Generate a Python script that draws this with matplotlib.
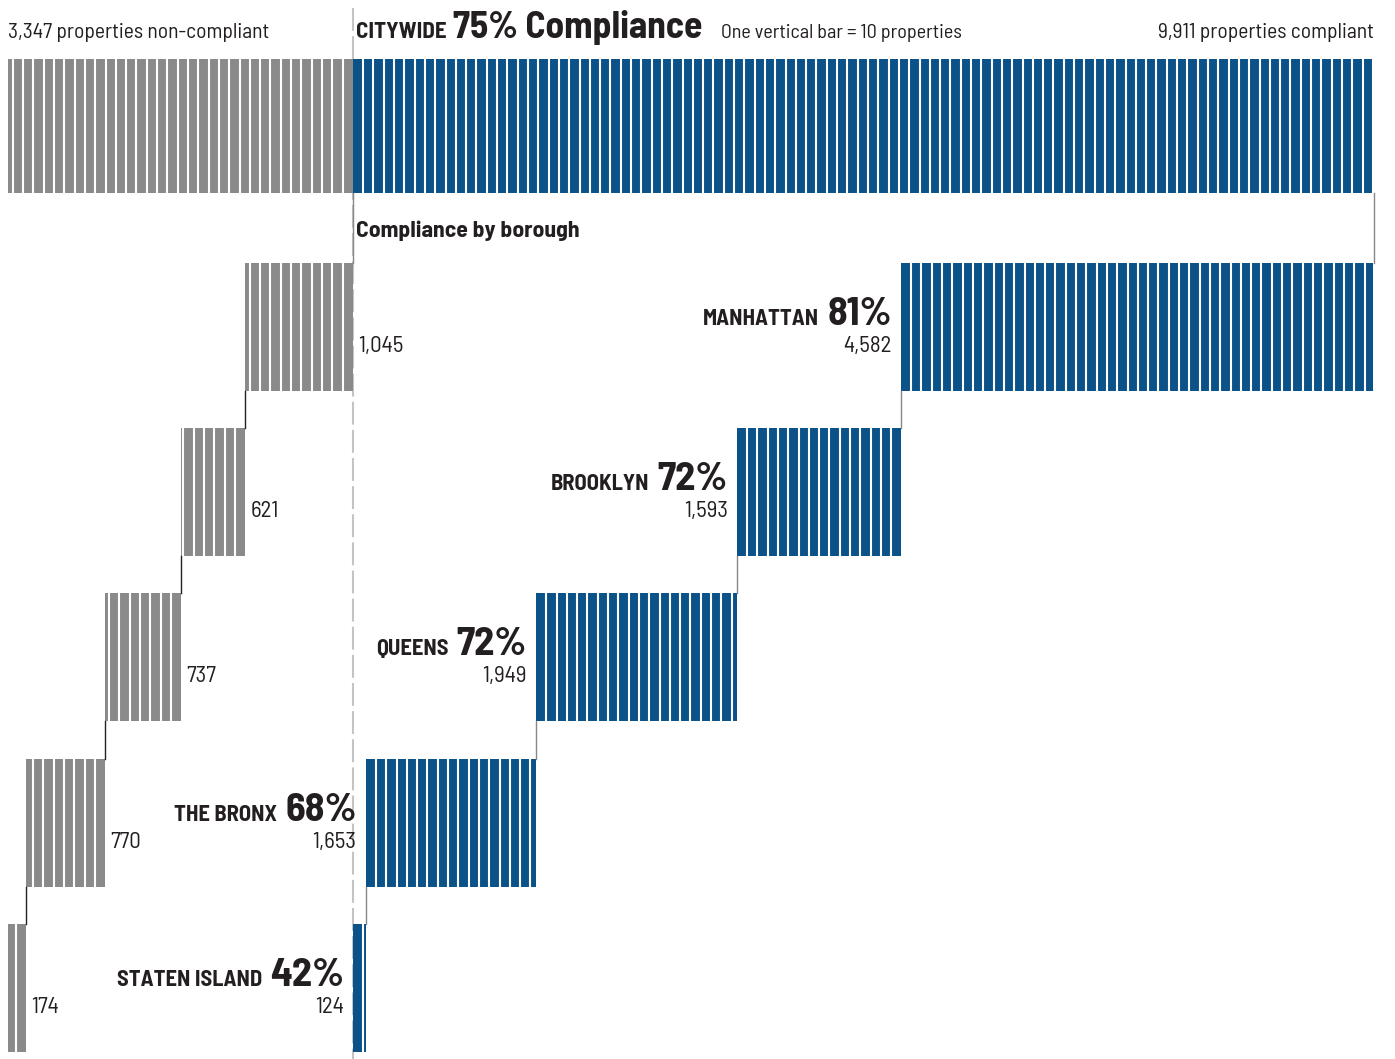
import matplotlib
matplotlib.use('Agg')
from matplotlib import pyplot as plt

# Данные
boroughs = ['MANHATTAN', 'BROOKLYN', 'QUEENS', 'THE BRONX', 'STATEN ISLAND']
pct_labels = ['81%', '72%', '72%', '68%', '42%']
compliant = [4582, 1593, 1949, 1653, 124]
non_compliant = [1045, 621, 737, 770, 174]
city_compliant = 9911
city_non_compliant = 3347
city_pct = '75%'

BLUE = '#0b5289'
GRAY = '#8a8a8a'
INK = '#231f20'
FONT = dict(family=['Barlow Semi Condensed', 'DejaVu Sans'], stretch='condensed')
STEP = 100  # ширина одной полоски

W, H = 1395, 1059
fig = plt.figure(figsize=(W / 100, H / 100), dpi=100)
ax = fig.add_axes([0, 0, 1, 1])
ax.axis('off')

# масштаб: -3347 -> 8 px, 9911 -> 1374 px
px_per = (1374 - 8) / (city_compliant + city_non_compliant)
x0 = -city_non_compliant - 8 / px_per
ax.set_xlim(x0, x0 + W / px_per)
ax.set_ylim(H, 0)

renderer = fig.canvas.get_renderer()


def striped(left, width, top, height, color, from_right=False):
    ax.add_patch(plt.Rectangle((left, top), width, height, color=color, lw=0, zorder=2))
    xs = []
    k = 1
    while k * STEP < width:
        xs.append(left + width - k * STEP if from_right else left + k * STEP)
        k += 1
    ax.vlines(xs, top, top + height, color='white', lw=1.5, zorder=3)


def text_width(t):
    return t.get_window_extent(renderer).width / px_per


# пунктирная центральная линия
ax.plot([0, 0], [8, H], color='#c4c4c4', lw=1.5, ls=(0, (11, 2.5)), zorder=1)

# Общая строка
city_top, city_h = 59, 134
striped(-city_non_compliant, city_non_compliant, city_top, city_h, GRAY, from_right=True)
striped(0, city_compliant, city_top, city_h, BLUE)

ax.text(-city_non_compliant, 38, f'{city_non_compliant:,} properties non-compliant',
        size=15.5, color=INK, va='baseline', ha='left', **FONT)
ax.text(city_compliant, 38, f'{city_compliant:,} properties compliant',
        size=15.5, color=INK, va='baseline', ha='right', **FONT)
xt = 3 / px_per
t = ax.text(xt, 38, 'CITYWIDE', size=16.5, weight='bold',
            color=INK, va='baseline', **FONT)
xt += text_width(t) + 7 / px_per
t = ax.text(xt, 38, f'{city_pct} Compliance', size=27, weight='bold',
            color=INK, va='baseline', **FONT)
xt += text_width(t) + 18 / px_per
ax.text(xt, 38, 'One vertical bar = 10 properties', size=14.5,
        color=INK, va='baseline', **FONT)

ax.text(3 / px_per, 237, 'Compliance by borough', size=17,
        weight='bold', color=INK, va='baseline', **FONT)

# Строки по районам
row_top0, row_pitch, row_h = 263, 165.2, 128
prev_bottom = city_top + city_h
for i, name in enumerate(boroughs):
    top = row_top0 + i * row_pitch
    gray_right = -sum(non_compliant[:i])
    gray_left = gray_right - non_compliant[i]
    blue_left = sum(compliant[i + 1:])
    striped(gray_left, non_compliant[i], top, row_h, GRAY, from_right=True)
    striped(blue_left, compliant[i], top, row_h, BLUE)

    # соединительные линии
    if i == 0:
        ax.plot([0, 0], [prev_bottom, top], color='#888888', lw=1, zorder=4)
        ax.plot([city_compliant, city_compliant], [prev_bottom, top],
                color='#888888', lw=1, zorder=4)
    else:
        ax.plot([gray_right, gray_right], [prev_bottom, top], color='#222222', lw=1, zorder=4)
        ax.plot([blue_left + compliant[i]] * 2, [prev_bottom, top],
                color='#888888', lw=1, zorder=4)
    prev_bottom = top + row_h

    # подписи
    ax.text(gray_right + 5 / px_per, top + 89, f'{non_compliant[i]:,}',
            size=16.5, color=INK, va='baseline', ha='left', zorder=5, **FONT)
    xr = blue_left - 9 / px_per
    ax.text(xr, top + 89, f'{compliant[i]:,}', size=16.5,
            color=INK, va='baseline', ha='right', zorder=5, **FONT)
    t = ax.text(xr, top + 62, pct_labels[i], size=29, weight='bold',
                color=INK, va='baseline', ha='right', zorder=5, **FONT)
    ax.text(xr - text_width(t) - 8 / px_per, top + 62, name, size=16.2,
            weight='bold', color=INK, va='baseline', ha='right', zorder=5, **FONT)

fig.savefig('out.png', dpi=100)
